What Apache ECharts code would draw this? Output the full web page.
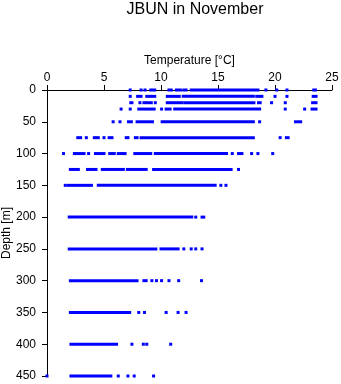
<!DOCTYPE html>
<html>
<head>
<meta charset="utf-8">
<script src="https://cdn.jsdelivr.net/npm/echarts@6/dist/echarts.min.js"></script>
<style>
  html, body { margin: 0; padding: 0; background: #fff; }
  #chart { width: 341px; height: 384px; }
</style>
</head>
<body>
<div id="chart"></div>
<script>
// Sampling depths [m]
const depths = [0, 10, 20, 30, 50, 75, 100, 125, 150, 200, 250, 300, 350, 400, 450];

// Observed temperature runs [°C] at each depth: [first, last] of a dense run of samples
const t0   = [[7.3,7.3],[8.25,8.25],[8.6,8.6],[9.1,9.45],[10.7,10.9],[11.35,11.7],[12.0,12.2],[12.65,18.5],[19.2,19.2],[20.15,20.15],[21.05,21.05],[23.4,23.55]];
const t10  = [[7.3,7.3],[7.95,8.25],[8.75,9.45],[10.55,11.6],[11.95,18.1],[18.4,18.85],[20.0,20.0],[21.05,21.05],[23.35,23.6]];
const t20  = [[7.35,7.45],[8.15,8.15],[8.5,9.15],[9.5,9.5],[10.55,11.85],[12.1,18.15],[18.55,18.7],[19.7,19.7],[20.9,20.9],[23.3,23.6]];
const t30  = [[6.5,6.5],[7.3,7.3],[8.05,9.4],[10.05,10.05],[10.45,10.8],[11.2,18.65],[20.9,20.9],[22.6,22.6],[23.25,23.6]];
const t50  = [[5.8,5.8],[6.4,6.4],[7.15,7.4],[7.9,9.25],[10.1,18.1],[18.65,18.65],[21.8,22.25]];
const t75  = [[2.7,2.95],[3.45,3.45],[4.15,4.5],[5.0,5.0],[5.45,5.7],[6.95,7.1],[7.75,7.9],[8.25,18.1],[20.45,20.45],[21.0,21.15]];
const t100 = [[1.45,1.45],[2.4,3.25],[3.65,3.65],[4.25,5.0],[5.5,5.9],[6.25,6.85],[7.7,9.1],[9.5,15.75],[16.25,16.25],[16.8,17.1],[17.95,17.95],[18.5,18.5],[19.8,19.8]];
const t125 = [[2.05,2.75],[3.55,4.3],[4.85,6.7],[7.05,8.7],[9.35,16.15],[16.8,16.8]];
const t150 = [[1.6,1.6],[1.85,3.9],[4.5,14.75],[15.25,15.25],[15.7,15.7]];
const t200 = [[1.95,12.7],[13.05,13.05],[13.6,13.75]];
const t250 = [[1.95,9.55],[10.0,10.3],[10.55,11.5],[12.0,12.0],[12.65,12.65],[13.05,13.05],[13.6,13.6]];
const t300 = [[2.05,7.9],[8.5,8.7],[9.2,9.2],[9.6,9.6],[10.05,10.05],[10.7,10.7],[11.55,11.55],[13.55,13.55]];
const t350 = [[2.05,7.25],[8.05,8.05],[8.55,8.55],[10.45,10.45],[11.5,11.5],[12.2,12.2]];
const t400 = [[2.1,6.1],[7.45,7.45],[8.45,8.45],[8.75,8.75],[10.85,10.85]];
const t450 = [[0,0],[2.1,5.6],[6.25,6.25],[7.1,7.1],[7.65,7.65],[9.35,9.35]];

const runsByDepth = [t0, t10, t20, t30, t50, t75, t100, t125, t150, t200, t250, t300, t350, t400, t450];

// Axis ticks
const tempTicks = [0, 5, 10, 15, 20, 25];
const depthTicks = [0, 50, 100, 150, 200, 250, 300, 350, 400, 450];

const runData = [];
depths.forEach((d, i) => {
  runsByDepth[i].forEach(r => runData.push([r[0], r[1], d]));
});

const FONT = 'Liberation Sans, Arial, Helvetica, sans-serif';
const BLUE = '#0000ff';
const MARK = 3; // sample marker size in px

const chart = echarts.init(document.getElementById('chart'), null, { renderer: 'canvas' });
chart.setOption({
  animation: false,
  backgroundColor: '#ffffff',
  title: {
    text: 'JBUN in November',
    left: 190,
    textAlign: 'center',
    top: -3,
    textStyle: { fontFamily: FONT, fontSize: 16, fontWeight: 'normal', color: '#000' }
  },
  grid: { left: 47, right: 9, top: 90, bottom: 8, containLabel: false, outerBoundsMode: 'none' },
  xAxis: {
    type: 'value',
    position: 'top',
    min: tempTicks[0],
    max: tempTicks[tempTicks.length - 1],
    interval: 5,
    name: 'Temperature [°C]',
    nameLocation: 'middle',
    nameGap: 23,
    nameMoveOverlap: false,
    nameTextStyle: { fontFamily: FONT, fontSize: 12, color: '#000' },
    axisLine: { show: true, lineStyle: { color: '#000', width: 1 } },
    axisTick: { show: true, inside: false, length: 5, lineStyle: { color: '#000' } },
    axisLabel: { fontFamily: FONT, fontSize: 12, color: '#000', margin: 6 },
    splitLine: { show: false }
  },
  yAxis: {
    type: 'value',
    inverse: true,
    min: depthTicks[0],
    max: depthTicks[depthTicks.length - 1],
    interval: 50,
    name: 'Depth [m]',
    nameLocation: 'middle',
    nameGap: 34,
    nameMoveOverlap: false,
    nameRotate: 90,
    nameTextStyle: { fontFamily: FONT, fontSize: 12, color: '#000' },
    axisLine: { show: true, lineStyle: { color: '#000', width: 1 } },
    axisTick: { show: true, inside: false, length: 5, lineStyle: { color: '#000' } },
    axisLabel: { fontFamily: FONT, fontSize: 12, color: '#000', margin: 11 },
    splitLine: { show: false }
  },
  series: [{
    type: 'custom',
    clip: false,
    data: runData,
    encode: { x: [0, 1], y: 2 },
    renderItem: function (params, api) {
      const a = api.coord([api.value(0), api.value(2)]);
      const b = api.coord([api.value(1), api.value(2)]);
      return {
        type: 'rect',
        shape: {
          x: a[0] - MARK / 2,
          y: a[1] - MARK / 2,
          width: b[0] - a[0] + MARK,
          height: MARK
        },
        style: { fill: BLUE }
      };
    }
  }]
});
</script>
</body>
</html>
